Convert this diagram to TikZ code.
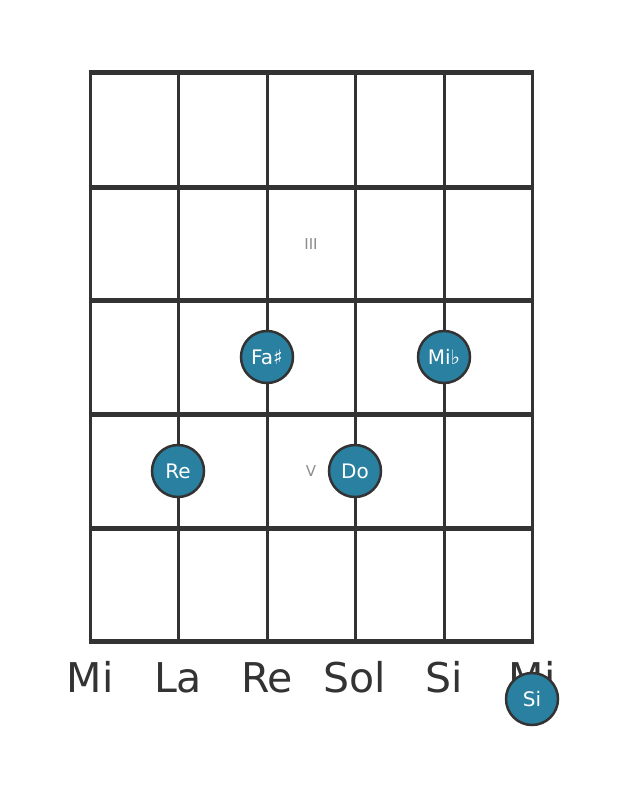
\documentclass[tikz,border=0pt]{standalone}
\usepackage{fontspec}
\setmainfont{DejaVu Sans}
\begin{document}
\begin{tikzpicture}[x=1pt,y=-1pt,
  fret/.style={draw=lineC,line width=5pt},
  strg/.style={draw=lineC,line width=3pt},
  note/.style={circle,fill=noteC,draw=lineC,line width=2.5pt,minimum size=52pt,inner sep=0pt,text=white,font=\fontsize{20}{20}\selectfont},
  strname/.style={text=lineC,font=\fontsize{41}{41}\selectfont,inner sep=0pt,anchor=base},
  fretnum/.style={text=gray!90,font=\fontsize{15}{15}\selectfont,inner sep=0pt}]
\definecolor{lineC}{HTML}{333333}
\definecolor{noteC}{HTML}{2A80A0}
\useasboundingbox[fill=white] (0,0) rectangle (631,797);
% strings
\foreach \x/\n in {90/s1,178/s2,267/s3,355/s4,444/s5,532/s6}{
  \coordinate (\n t) at (\x,73);
  \coordinate (\n b) at (\x,641);
  \draw[strg] (\n t) -- (\n b);
}
% frets
\foreach \y/\n in {73/f0,187/f1,300/f2,414/f3,528/f4,641/f5}{
  \coordinate (\n l) at (88.5,\y);
  \coordinate (\n r) at (533.5,\y);
  \draw[fret] (\n l) -- (\n r);
}
% fret markers
\node[fretnum] (m3) at (311,244) {III};
\node[fretnum] (m5) at (311,471) {V};
% string names
\node[strname] (n1) at (90,692) {Mi};
\node[strname] (n2) at (178,692) {La};
\node[strname] (n3) at (267,692) {Re};
\node[strname] (n4) at (355,692) {Sol};
\node[strname] (n5) at (444,692) {Si};
\node[strname] (n6) at (532,692) {Mi};
% notes
\node[note] (fa) at (267,357) {Fa♯};
\node[note] (mib) at (444,357) {Mi♭};
\node[note] (re) at (178,471) {Re};
\node[note] (do) at (355,471) {Do};
\node[note] (si) at (532,699) {Si};
\end{tikzpicture}
\end{document}
